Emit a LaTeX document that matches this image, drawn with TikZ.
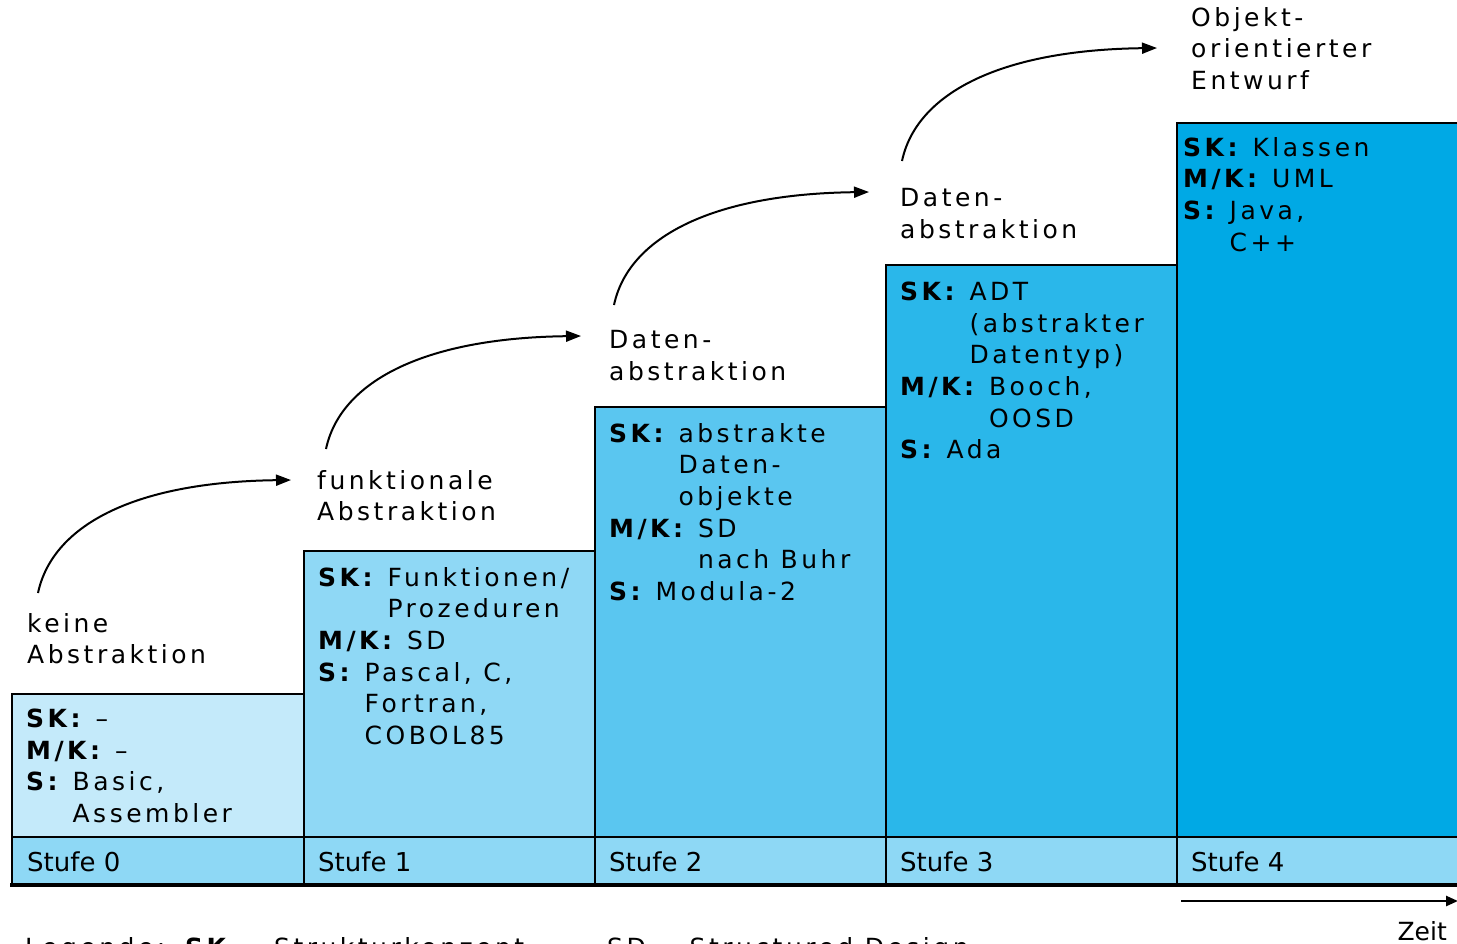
\documentclass[tikz,border=0pt]{standalone}
\usepackage{fontspec}
\setmainfont{DejaVu Sans}[LetterSpace=14]
\newfontfamily\stufefont{DejaVu Sans}
\usetikzlibrary{arrows.meta}

\definecolor{stufe0}{HTML}{C4EAFA}
\definecolor{stufe1}{HTML}{8FD8F5}
\definecolor{stufe2}{HTML}{5AC6F0}
\definecolor{stufe3}{HTML}{2AB7EA}
\definecolor{stufe4}{HTML}{00A9E5}
\definecolor{leiste}{HTML}{8ED8F5}

\newcommand\infotextfont{\fontsize{25}{31.6}\selectfont}
\newcommand\ind[1]{\phantom{\textbf{#1} }}

\begin{document}
\begin{tikzpicture}[x=1pt,y=-1pt,
  stagebox/.style={draw=black, line width=2.5pt},
  info/.style={anchor=north west, inner sep=0pt, align=left, font=\infotextfont},
  stufelabel/.style={anchor=base west, inner sep=0pt, font=\stufefont\fontsize{26}{30}\selectfont},
  flow/.style={line width=2pt, -{Triangle[length=15pt,width=11pt]}}]

\useasboundingbox (0,0) rectangle (1457,943);

% stair boxes, one per level
\path[stagebox, fill=stufe4] (1177,123) rectangle (1470,837);
\path[stagebox, fill=stufe3] (886,265) rectangle (1177,837);
\path[stagebox, fill=stufe2] (595,407) rectangle (886,837);
\path[stagebox, fill=stufe1] (304,551) rectangle (595,837);
\path[stagebox, fill=stufe0] (12,694) rectangle (304,837);

% bottom strip with level names
\path[fill=leiste] (12,837) rectangle (1470,885);
\draw[line width=2.5pt] (12,837) -- (1470,837);
\draw[line width=4pt] (10,885) -- (1470,885);
\draw[line width=2.5pt] (12,837) -- (12,887);
\foreach \x in {304,595,886,1177} \draw[line width=2.5pt] (\x,837) -- (\x,885);

\node[stufelabel] (s0) at (27,871) {Stufe 0};
\node[stufelabel] (s1) at (318,871) {Stufe 1};
\node[stufelabel] (s2) at (609,871) {Stufe 2};
\node[stufelabel] (s3) at (900,871) {Stufe 3};
\node[stufelabel] (s4) at (1191,871) {Stufe 4};

% contents of the boxes
\node[info] (t0) at (26,709) {\textbf{SK:} –\\\textbf{M/K:} –\\\textbf{S:} Basic,\\\ind{S:}Assembler};
\node[info] (t1) at (318,567) {\textbf{SK:} Funktionen/\\\ind{SK:}Prozeduren\\\textbf{M/K:} SD\\\textbf{S:} Pascal, C,\\\ind{S:}Fortran,\\\ind{S:}COBOL85};
\node[info] (t2) at (609,423) {\textbf{SK:} abstrakte\\\ind{SK:}Daten-\\\ind{SK:}objekte\\\textbf{M/K:} SD\\\ind{M/K:}nach Buhr\\\textbf{S:} Modula-2};
\node[info] (t3) at (900,282) {\textbf{SK:} ADT\\\ind{SK:}(abstrakter\\\ind{SK:}Datentyp)\\\textbf{M/K:} Booch,\\\ind{M/K:}OOSD\\\textbf{S:} Ada};
\node[info] (t4) at (1183,137) {\textbf{SK:} Klassen\\\textbf{M/K:} UML\\\textbf{S:} Java,\\\ind{S:}C++};

% abstraction labels above the boxes
\node[info] (l0) at (27,613) {keine\\Abstraktion};
\node[info] (l1) at (317,470) {funktionale\\Abstraktion};
\node[info] (l2) at (609,330) {Daten-\\abstraktion};
\node[info] (l3) at (900,188) {Daten-\\abstraktion};
\node[info] (l4) at (1191,7) {Objekt-\\orientierter\\Entwurf};

% curved arrows from level to level
\coordinate (a0s) at (38,593);  \coordinate (a0e) at (291,480);
\coordinate (a1s) at (326,449); \coordinate (a1e) at (581,336);
\coordinate (a2s) at (614,305); \coordinate (a2e) at (869,192);
\coordinate (a3s) at (902,161); \coordinate (a3e) at (1157,48);
\foreach \i in {0,1,2,3}
  \draw[flow] (a\i s) .. controls +(14,-66) and +(-160,2) .. (a\i e);

% time axis
\coordinate (z0) at (1181,901);
\coordinate (z1) at (1458,901);
\draw[line width=2.5pt, -{Triangle[length=12pt,width=10pt]}] (z0) -- (z1);
\node[anchor=base east, inner sep=0pt, font=\stufefont\fontsize{25}{30}\selectfont] (zeit) at (1447,940) {Zeit};

% legend line
\node[anchor=base west, inner sep=0pt, font=\infotextfont] (leg0) at (25,956) {Legende:};
\node[anchor=base west, inner sep=0pt, font=\infotextfont] (leg1) at (185,956) {\textbf{SK} = Strukturkonzept,};
\node[anchor=base west, inner sep=0pt, font=\infotextfont] (leg2) at (607,956) {SD = Structured Design};
\end{tikzpicture}
\end{document}
